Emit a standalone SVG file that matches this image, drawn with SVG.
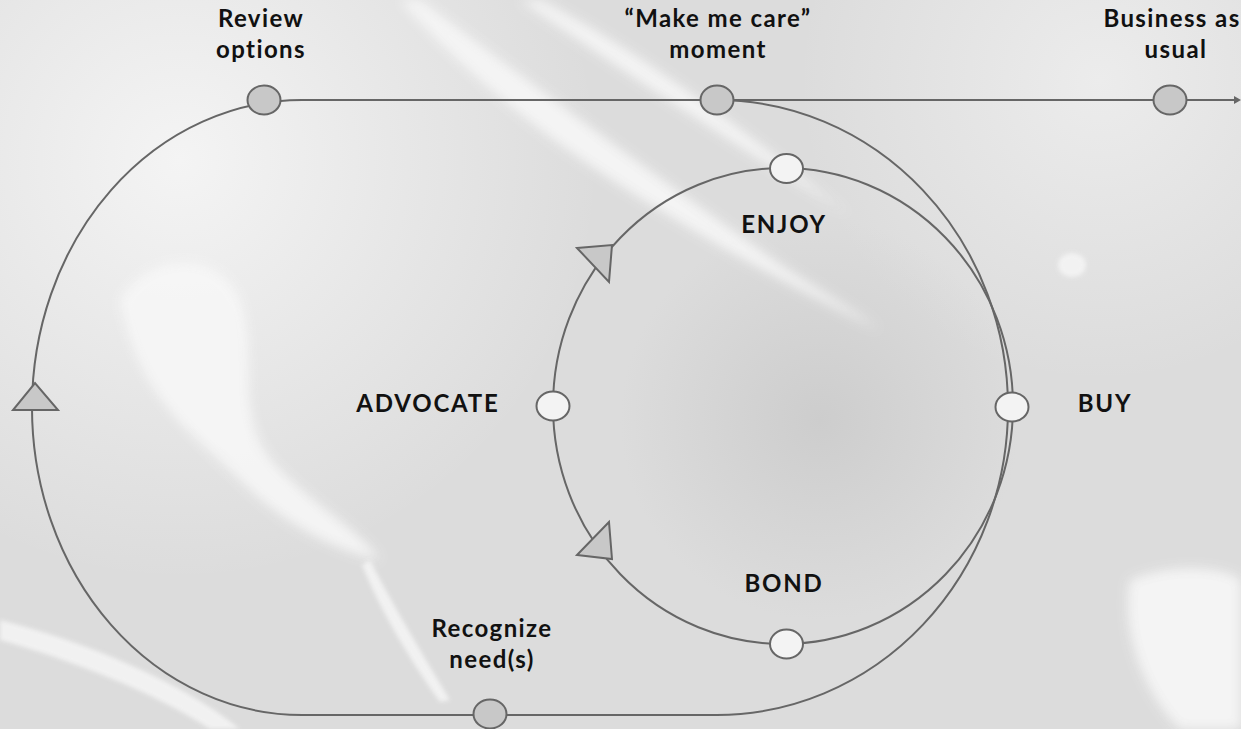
<svg xmlns="http://www.w3.org/2000/svg" width="1241" height="729" viewBox="0 0 1241 729">
  <defs>
    <style>
      .lbl { font-family: Lato, "Liberation Sans", sans-serif; font-weight: 700; font-size: 24px; fill: #111; text-anchor: middle; letter-spacing: 1.4px; }
      .cap { font-family: Lato, "Liberation Sans", sans-serif; font-weight: 700; font-size: 24px; fill: #111; text-anchor: middle; letter-spacing: 1.8px; }
      .line { fill: none; stroke: #666; stroke-width: 2; }
      .gnode { fill: #c8c8c8; stroke: #666; stroke-width: 2; }
      .wnode { fill: #f3f3f3; stroke: #666; stroke-width: 2; }
      .tri { fill: #c8c8c8; stroke: #666; stroke-width: 2; stroke-linejoin: miter; }
    </style>
    <radialGradient id="gl1" cx="180" cy="160" r="420" gradientUnits="userSpaceOnUse">
      <stop offset="0" stop-color="#f4f4f4"/>
      <stop offset="1" stop-color="#f4f4f4" stop-opacity="0"/>
    </radialGradient>
    <radialGradient id="gl2" cx="1100" cy="80" r="300" gradientUnits="userSpaceOnUse">
      <stop offset="0" stop-color="#ececec"/>
      <stop offset="1" stop-color="#ececec" stop-opacity="0"/>
    </radialGradient>
    <radialGradient id="dk" cx="820" cy="420" r="200" gradientUnits="userSpaceOnUse">
      <stop offset="0" stop-color="#cdcdcd"/>
      <stop offset="1" stop-color="#cdcdcd" stop-opacity="0"/>
    </radialGradient>
    <filter id="blur" x="-20%" y="-20%" width="140%" height="140%">
      <feGaussianBlur stdDeviation="6"/>
    </filter>
    <filter id="blur2" x="-20%" y="-20%" width="140%" height="140%">
      <feGaussianBlur stdDeviation="2"/>
    </filter>
  </defs>

  <!-- background -->
  <g id="background">
    <rect x="0" y="0" width="1241" height="729" fill="#dcdcdc"/>
    <rect x="0" y="0" width="1241" height="729" fill="url(#gl1)"/>
    <rect x="0" y="0" width="1241" height="729" fill="url(#gl2)"/>
    <rect x="0" y="0" width="1241" height="729" fill="url(#dk)"/>
    <g filter="url(#blur)" fill="#f7f7f7" opacity="0.9">
      <path d="M120 300 C150 250 220 250 240 300 C260 360 230 420 280 470 C320 510 360 530 380 560 C330 550 280 520 240 480 C190 430 140 400 120 300 Z"/>
      <path d="M420 0 C500 60 620 150 760 250 C800 280 840 300 880 330 C820 300 740 260 660 210 C560 150 470 80 400 0 Z"/>
      <path d="M540 0 C620 40 720 110 830 200 L850 215 C760 160 650 90 520 0 Z"/>
      <path d="M1130 580 C1180 560 1230 570 1241 580 L1241 729 L1180 729 C1150 700 1120 640 1130 580 Z"/>
    </g>
    <g filter="url(#blur2)" fill="#f5f5f5" opacity="0.85">
      <path d="M370 560 C390 600 420 650 450 700 L440 702 C410 660 380 610 362 565 Z"/>
      <ellipse cx="1072" cy="265" rx="14" ry="12"/>
      <path d="M0 620 C80 640 180 680 240 729 L210 729 C150 690 70 660 0 640 Z"/>
    </g>
  </g>

  <!-- connectors -->
  <g id="connectors">
    <path class="line" d="M302 100 L1236 100"/>
    <polygon points="1234,96 1241,100 1234,104" fill="#666"/>
    <path class="line" d="M302 100 A270 307.5 0 0 0 32 407.5 A270 307.5 0 0 0 302 715 L717 715 A291 307.5 0 0 0 1008 407.5 A291 307.5 0 0 0 717 100"/>
    <ellipse class="line" cx="783" cy="406" rx="230" ry="238"/>
    <polygon class="tri" points="13,410 58,410 35,383"/>
    <polygon class="tri" points="577,248 612,245 609,282"/>
    <polygon class="tri" points="609,522 577,555 612,559"/>
  </g>

  <!-- nodes -->
  <g id="node-review-options">
    <ellipse class="gnode" cx="264" cy="100" rx="16.5" ry="14.5"/>
    <text class="lbl" x="261" y="27">Review</text>
    <text class="lbl" x="261" y="58">options</text>
  </g>
  <g id="node-make-me-care">
    <ellipse class="gnode" cx="717" cy="100" rx="16.5" ry="14.5"/>
    <text class="lbl" x="718" y="27">“Make me care”</text>
    <text class="lbl" x="718" y="58">moment</text>
  </g>
  <g id="node-business-as-usual">
    <ellipse class="gnode" cx="1170" cy="100" rx="16.5" ry="14.5"/>
    <text class="lbl" x="1172" y="27">Business as</text>
    <text class="lbl" x="1176" y="58">usual</text>
  </g>
  <g id="node-recognize-needs">
    <ellipse class="gnode" cx="490" cy="714" rx="16.5" ry="14.5"/>
    <text class="lbl" x="492" y="637">Recognize</text>
    <text class="lbl" x="492" y="668">need(s)</text>
  </g>
  <g id="node-enjoy">
    <ellipse class="wnode" cx="786.5" cy="168.5" rx="16.5" ry="14.5"/>
    <text class="cap" x="784" y="233">ENJOY</text>
  </g>
  <g id="node-advocate">
    <ellipse class="wnode" cx="553" cy="406" rx="16.5" ry="14.5"/>
    <text class="cap" x="428" y="412">ADVOCATE</text>
  </g>
  <g id="node-buy">
    <ellipse class="wnode" cx="1012" cy="407" rx="16.5" ry="14.5"/>
    <text class="cap" x="1105" y="412">BUY</text>
  </g>
  <g id="node-bond">
    <ellipse class="wnode" cx="786.5" cy="644" rx="16.5" ry="14.5"/>
    <text class="cap" x="784" y="592">BOND</text>
  </g>
</svg>
